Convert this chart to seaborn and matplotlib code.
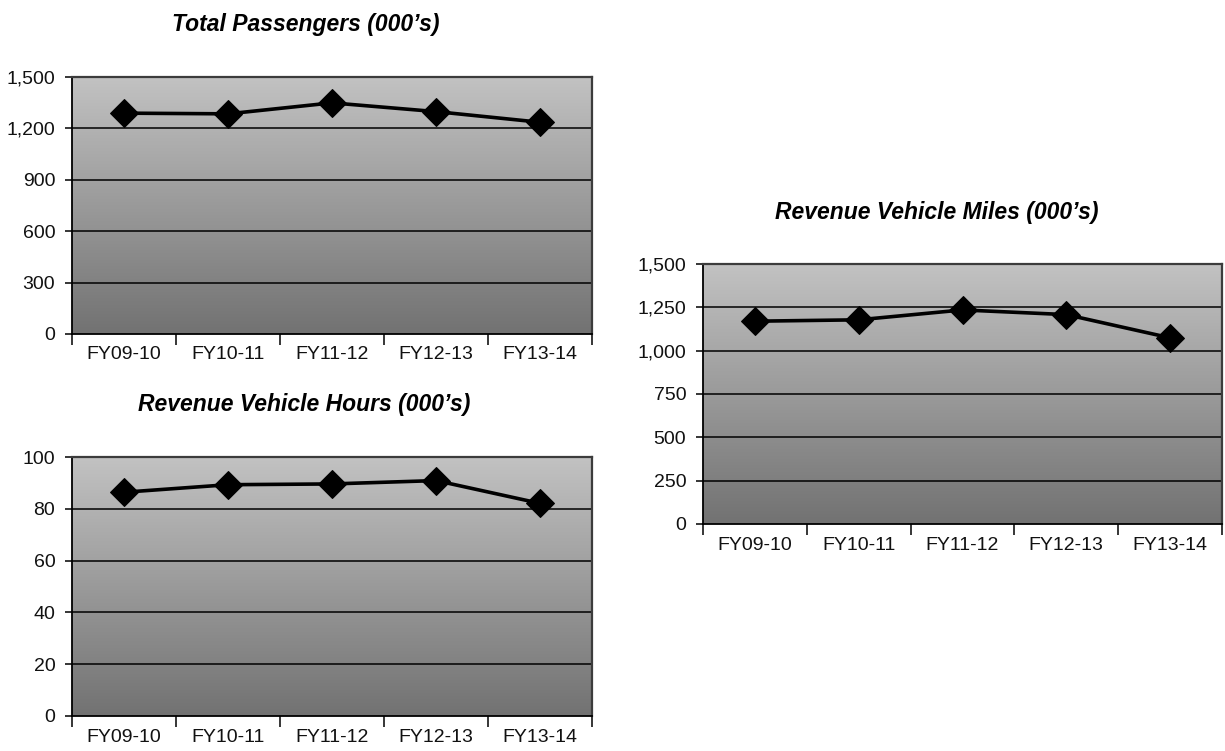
import numpy as np
import pandas as pd
import matplotlib
matplotlib.use("Agg")
import matplotlib.pyplot as plt
from matplotlib.ticker import FuncFormatter, FixedLocator
import seaborn as sns

# Fiscal years shown on every chart
years = ["FY09-10", "FY10-11", "FY11-12", "FY12-13", "FY13-14"]

# Values in thousands
passengers = [1289, 1285, 1349, 1298, 1236]
vehicle_hours = [86.4, 89.3, 89.6, 90.9, 82.1]
vehicle_miles = [1170, 1178, 1235, 1208, 1074]

passenger_ticks = [0, 300, 600, 900, 1200, 1500]
hours_ticks = [0, 20, 40, 60, 80, 100]
miles_ticks = [0, 250, 500, 750, 1000, 1250, 1500]

sns.set_theme(style="white")
plt.rcParams["font.family"] = ["Liberation Sans", "DejaVu Sans"]

W, H = 1225, 751
fig = plt.figure(figsize=(W / 100, H / 100), dpi=100)


def add_axes_px(left, top, right, bottom):
    return fig.add_axes([left / W, 1 - bottom / H, (right - left) / W, (bottom - top) / H])


def gradient_bg(ax):
    top = np.array([194, 194, 194]) / 255
    bot = np.array([114, 114, 114]) / 255
    t = np.linspace(0, 1, 256)[:, None]
    img = top[None, :] * (1 - t) + bot[None, :] * t
    img = np.repeat(img[:, None, :], 2, axis=1)
    ax.imshow(img, extent=[0, 1, 0, 1], transform=ax.transAxes,
              aspect="auto", zorder=0, interpolation="bilinear")


def draw_panel(ax, values, yticks, title, title_xy):
    df = pd.DataFrame({"year": years, "value": values})
    gradient_bg(ax)
    sns.lineplot(data=df, x="year", y="value", ax=ax, color="black",
                 linewidth=2.6, marker="D", markersize=14,
                 markeredgecolor="black", zorder=5, sort=False)
    ax.set_xlim(-0.5, len(years) - 0.5)
    ax.set_ylim(yticks[0], yticks[-1])
    ax.set_xlabel("")
    ax.set_ylabel("")
    for y in yticks[1:]:
        ax.axhline(y, color="black", linewidth=1.1, zorder=2)
    ax.yaxis.set_major_locator(FixedLocator(yticks))
    ax.yaxis.set_major_formatter(FuncFormatter(lambda v, p: f"{int(v):,}"))
    # category boundaries carry the tick marks, centres carry the labels
    ax.xaxis.set_major_locator(FixedLocator(np.arange(-0.5, len(years))))
    ax.xaxis.set_major_formatter(FuncFormatter(lambda v, p: ""))
    ax.xaxis.set_minor_locator(FixedLocator(np.arange(len(years))))
    ax.xaxis.set_minor_formatter(FuncFormatter(lambda v, p: years[int(round(v))]))
    ax.tick_params(axis="x", which="major", direction="out", length=8,
                   width=1.1, color="black", bottom=True)
    ax.tick_params(axis="x", which="minor", length=0, labelsize=14,
                   pad=9, labelcolor="#111111")
    ax.tick_params(axis="y", which="major", direction="out", length=5,
                   width=1.1, color="black", left=True, labelsize=14,
                   pad=7, labelcolor="#111111")
    for side in ("left", "bottom"):
        ax.spines[side].set_color("black")
        ax.spines[side].set_linewidth(1.3)
    for side in ("top", "right"):
        ax.spines[side].set_color("#3c3c3c")
        ax.spines[side].set_linewidth(1.6)
    fig.text(title_xy[0] / W, 1 - title_xy[1] / H, title, ha="center",
             va="center", fontsize=16.5, fontweight="bold", style="italic",
             color="black")


ax1 = add_axes_px(72, 77, 592, 334)
draw_panel(ax1, passengers, passenger_ticks, "Total Passengers (000’s)", (306, 25))

ax2 = add_axes_px(72, 457, 592, 716)
draw_panel(ax2, vehicle_hours, hours_ticks, "Revenue Vehicle Hours (000’s)", (304, 405))

ax3 = add_axes_px(703, 264, 1222, 524)
draw_panel(ax3, vehicle_miles, miles_ticks, "Revenue Vehicle Miles (000’s)", (937, 212))

fig.savefig("out.png", dpi=100, facecolor="white")
